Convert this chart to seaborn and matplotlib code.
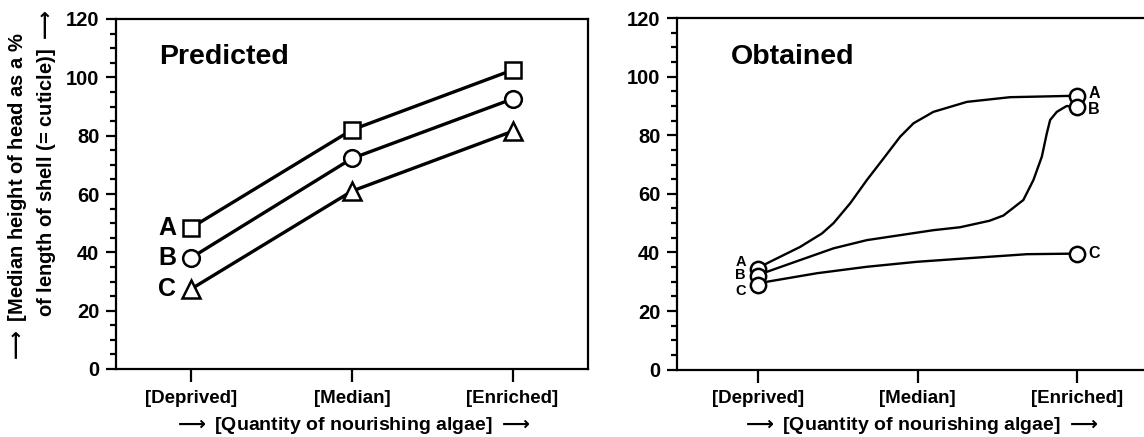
import matplotlib
matplotlib.use('Agg')
import matplotlib.pyplot as plt
import seaborn as sns
from matplotlib.ticker import MultipleLocator

# Categories on the x axis
categories = ['[Deprived]', '[Median]', '[Enriched]']
cat_pos = [0, 1, 2]

# Predicted panel
pred_A = [48.5, 82, 102.5]
pred_B = [38.2, 72.2, 92.6]
pred_C = [27.5, 61, 81.5]

# Obtained panel: curves (x in category units)
obt_A_x = [0, 0.055, 0.263, 0.40, 0.472, 0.577, 0.681, 0.786, 0.890, 0.974, 1.099, 1.309, 1.580, 1.75, 2.0]
obt_A_y = [34.5, 36.3, 41.9, 46.5, 50.0, 56.8, 64.7, 72.1, 79.5, 84.1, 88.0, 91.4, 93.0, 93.2, 93.5]
obt_B_x = [0, 0.055, 0.263, 0.472, 0.681, 0.890, 1.099, 1.266, 1.45, 1.538, 1.663, 1.726, 1.779, 1.810, 1.831, 1.873, 1.935, 2.0]
obt_B_y = [32, 33.4, 37.4, 41.4, 44.2, 45.9, 47.6, 48.6, 50.8, 52.6, 57.9, 64.7, 72.7, 80.6, 85.2, 88.0, 90.0, 89.5]
obt_C_x = [0, 0.055, 0.368, 0.681, 0.995, 1.309, 1.58, 1.685, 2.0]
obt_C_y = [29, 30, 32.9, 35.1, 36.8, 38, 39.0, 39.4, 39.6]

sns.set_style('ticks')
plt.rcParams['font.family'] = ['Liberation Sans', 'DejaVu Sans']
plt.rcParams['font.weight'] = 'bold'
plt.rcParams['text.color'] = 'black'
plt.rcParams['axes.labelcolor'] = 'black'
plt.rcParams['xtick.color'] = 'black'
plt.rcParams['ytick.color'] = 'black'
plt.rcParams['mathtext.default'] = 'bf'

ARROW = r'$\longrightarrow$'

fig = plt.figure(figsize=(11.44, 4.37), dpi=100)
ax1 = fig.add_axes([116 / 1144, 68 / 437, 472 / 1144, 350 / 437])
ax2 = fig.add_axes([677 / 1144, 67.4 / 437, 467 / 1144, 351.5 / 437])


def style_axes(ax):
    ax.set_ylim(0, 120)
    ax.set_xticks(cat_pos)
    ax.set_xticklabels(categories, fontsize=13.5, fontweight='bold')
    ax.yaxis.set_major_locator(MultipleLocator(20))
    ax.yaxis.set_minor_locator(MultipleLocator(5))
    for lab in ax.get_yticklabels():
        lab.set_fontsize(14.5)
        lab.set_fontweight('bold')
    ax.tick_params(axis='y', which='major', length=7, width=1.6, pad=5, direction='out')
    ax.tick_params(axis='y', which='minor', length=4, width=1.6, direction='out')
    ax.tick_params(axis='x', which='major', length=9, width=1.6, pad=6, direction='out')
    for s in ax.spines.values():
        s.set_linewidth(1.6)
        s.set_color('black')
    ax.set_xlabel(ARROW + ' [Quantity of nourishing algae] ' + ARROW, fontsize=14,
                  fontweight='bold')
    ax.set_ylabel('')


# Predicted
series = [(pred_A, 's', 'A'), (pred_B, 'o', 'B'), (pred_C, '^', 'C')]
for vals, mk, lab in series:
    sns.lineplot(x=cat_pos, y=vals, ax=ax1, color='black', linewidth=2.4,
                 marker=mk, markersize=12 if mk != '^' else 13, markerfacecolor='white',
                 markeredgecolor='black', markeredgewidth=1.8)
    ax1.annotate(lab, xy=(0, vals[0]), xytext=(-11, 0), textcoords='offset points',
                 ha='right', va='center', fontsize=18, fontweight='bold')
ax1.set_xlim(-0.47, 2.47)
style_axes(ax1)
ax1.text(0.091, 0.89, 'Predicted', transform=ax1.transAxes, fontsize=20.5,
         fontweight='bold', va='center', ha='left')
ax1.xaxis.set_label_coords(0.5, -0.13)

# Obtained
curves = [(obt_A_x, obt_A_y, 'A'), (obt_B_x, obt_B_y, 'B'), (obt_C_x, obt_C_y, 'C')]
for xs, ys, lab in curves:
    sns.lineplot(x=xs, y=ys, ax=ax2, color='black', linewidth=1.7, sort=False)
for xs, ys, lab in curves:
    ax2.plot([xs[0], xs[-1]], [ys[0], ys[-1]], linestyle='none', marker='o',
             markersize=11, markerfacecolor='white', markeredgecolor='black',
             markeredgewidth=1.8)
left_dy = {'A': 4.5, 'B': 0.5, 'C': -4.5}
right_dy = {'A': 1.5, 'B': -1.5, 'C': 0}
for xs, ys, lab in curves:
    ax2.annotate(lab, xy=(xs[0], ys[0]), xytext=(-9, left_dy[lab]),
                 textcoords='offset points', ha='right', va='center', fontsize=10.5,
                 fontweight='bold')
    ax2.annotate(lab, xy=(xs[-1], ys[-1]), xytext=(8, right_dy[lab]),
                 textcoords='offset points', ha='left', va='center', fontsize=11.5,
                 fontweight='bold')
ax2.set_xlim(-0.51, 2.42)
style_axes(ax2)
ax2.spines['right'].set_visible(False)
ax2.text(0.115, 0.89, 'Obtained', transform=ax2.transAxes, fontsize=20.5,
         fontweight='bold', va='center', ha='left')
ax2.xaxis.set_label_coords((920 - 677) / 467, -0.13)

# Y axis label (two lines, placed separately)
fig.text(18 / 1144, 1 - 198 / 437, ARROW + ' [Median height of head as a %', rotation=90,
         ha='center', va='center', fontsize=14.5, fontweight='bold')
fig.text(47 / 1144, 1 - 163 / 437, 'of length of shell (= cuticle)] ' + ARROW, rotation=90,
         ha='center', va='center', fontsize=14.5, fontweight='bold')

fig.savefig('out.png', dpi=100)
